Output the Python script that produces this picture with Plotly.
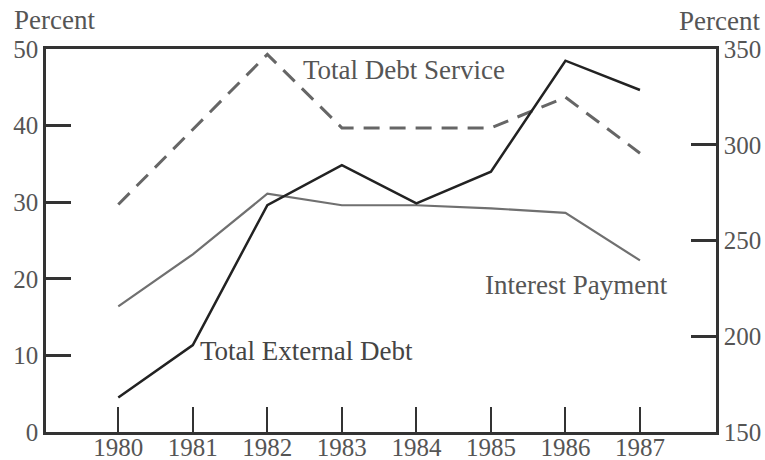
import plotly.graph_objects as go

years = [1980, 1981, 1982, 1983, 1984, 1985, 1986, 1987]
total_debt_service = [29.7, 39.5, 49.3, 39.7, 39.7, 39.7, 43.7, 36.4]
interest_payment = [16.4, 23.2, 31.1, 29.6, 29.6, 29.2, 28.6, 22.4]
total_external_debt = [168.0, 195.4, 268.5, 289.4, 269.4, 285.9, 343.9, 328.6]

left_ticks = [0, 10, 20, 30, 40, 50]
right_ticks = [150, 200, 250, 300, 350]

FONT = "Liberation Serif"
TXT = "#555555"
AX = "#333333"
FS = 27   # annotation text
TFS = 25  # tick labels

fig = go.Figure()
fig.add_trace(go.Scatter(x=years, y=total_debt_service, mode="lines",
                         line=dict(color="#666666", width=3, dash="16px,10px"),
                         showlegend=False, yaxis="y"))
fig.add_trace(go.Scatter(x=years, y=interest_payment, mode="lines",
                         line=dict(color="#707070", width=2.2),
                         showlegend=False, yaxis="y"))
fig.add_trace(go.Scatter(x=years, y=total_external_debt, mode="lines",
                         line=dict(color="#222222", width=2.5),
                         showlegend=False, yaxis="y2"))

fig.update_layout(
    width=765, height=460,
    margin=dict(l=46, r=49, t=49, b=28),
    paper_bgcolor="white", plot_bgcolor="white",
    font=dict(family=FONT, size=FS, color=TXT),
    xaxis=dict(range=[1979.03, 1988.02], tickvals=years, ticktext=[str(y) for y in years],
               ticks="inside", ticklen=25, tickwidth=2, tickcolor=AX, automargin=False,
               ticklabelstandoff=-9,
               showline=True, linecolor=AX, linewidth=2.5, mirror=True,
               showgrid=False, zeroline=False, tickfont=dict(size=TFS, color=TXT)),
    yaxis=dict(range=[0, 50], tickvals=left_ticks, ticks="inside", ticklen=25, automargin=False,
               tickwidth=2.5, tickcolor=AX, showline=True, linecolor=AX, linewidth=2.5,
               showgrid=False, zeroline=False, tickfont=dict(size=TFS, color=TXT)),
    yaxis2=dict(range=[150, 350], tickvals=right_ticks, overlaying="y", side="right",
                ticks="inside", ticklen=25, tickwidth=2.5, tickcolor=AX, automargin=False,
                showline=True, linecolor=AX, linewidth=2.5,
                showgrid=False, zeroline=False, tickfont=dict(size=TFS, color=TXT)),
    annotations=[
        dict(text="Percent", xref="paper", yref="paper", x=-0.0507, y=1.0, yshift=29,
             xanchor="left", yanchor="middle", showarrow=False, font=dict(size=FS, color=TXT)),
        dict(text="Percent", xref="paper", yref="paper", x=1.0687, y=1.0, yshift=28,
             xanchor="right", yanchor="middle", showarrow=False, font=dict(size=FS, color=TXT)),
        dict(text="Total Debt Service", xref="x", yref="y", x=1982.45, y=47.3,
             xanchor="left", yanchor="middle", showarrow=False, font=dict(size=FS, color=TXT)),
        dict(text="Interest Payment", xref="x", yref="y", x=1984.89, y=19.2,
             xanchor="left", yanchor="middle", showarrow=False, font=dict(size=FS, color=TXT)),
        dict(text="Total External Debt", xref="x", yref="y", x=1981.07, y=10.6,
             xanchor="left", yanchor="middle", showarrow=False, font=dict(size=FS, color="#444444")),
    ],
)

fig.write_html("out.html", config={"displayModeBar": False},
               post_script="document.body.style.margin='0px';")
